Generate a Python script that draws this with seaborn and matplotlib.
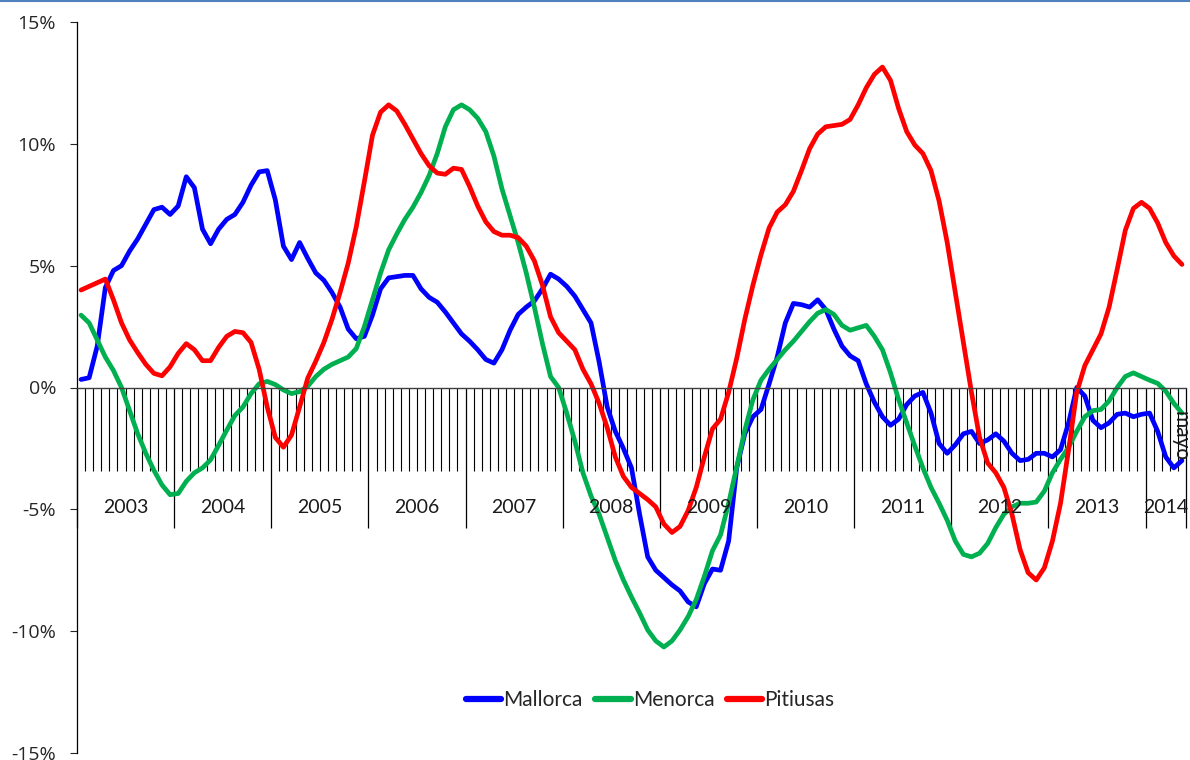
import matplotlib
matplotlib.use('Agg')
import seaborn as sns
import pandas as pd
import numpy as np
import matplotlib.pyplot as plt
from matplotlib.lines import Line2D
from matplotlib.ticker import FixedLocator, FuncFormatter

# monthly rate, Jan 2003 .. May 2014 (%)
mallorca = [0.33, 0.4, 1.7, 4.1, 4.8, 5.0, 5.6, 6.1, 6.7, 7.3, 7.4, 7.1,
            7.45, 8.65, 8.2, 6.5, 5.9, 6.5, 6.9, 7.1, 7.6, 8.3, 8.85, 8.9,
            7.7, 5.8, 5.25, 5.95, 5.3, 4.7, 4.4, 3.9, 3.3, 2.4, 2.0, 2.1,
            2.97, 4.05, 4.5, 4.55, 4.6, 4.6, 4.05, 3.7, 3.5, 3.1, 2.65, 2.2,
            1.9, 1.55, 1.15, 1.0, 1.55, 2.35, 3.0, 3.3, 3.55, 4.05, 4.65, 4.45,
            4.15, 3.75, 3.2, 2.65, 1.05, -0.8, -1.8, -2.5, -3.3, -5.2, -6.95, -7.5,
            -7.8, -8.1, -8.35, -8.8, -9.0, -8.05, -7.45, -7.5, -6.3, -3.3, -1.9, -1.2,
            -0.9, 0.15, 1.25, 2.65, 3.45, 3.4, 3.3, 3.6, 3.2, 2.4, 1.7, 1.3,
            1.1, 0.15, -0.6, -1.2, -1.55, -1.3, -0.7, -0.35, -0.2, -1.05, -2.3, -2.7,
            -2.35, -1.9, -1.8, -2.3, -2.15, -1.9, -2.2, -2.7, -3.0, -2.95, -2.7, -2.7,
            -2.85, -2.55, -1.45, 0.0, -0.35, -1.35, -1.65, -1.45, -1.1, -1.05, -1.2, -1.1,
            -1.05, -1.8, -2.85, -3.3, -3.0]
menorca = [2.97, 2.65, 1.95, 1.25, 0.7, 0.0, -0.95, -1.9, -2.7, -3.4, -4.0, -4.4,
           -4.35, -3.85, -3.5, -3.3, -2.97, -2.37, -1.75, -1.15, -0.8, -0.25, 0.15, 0.25,
           0.12, -0.1, -0.25, -0.17, 0.05, 0.45, 0.75, 0.95, 1.1, 1.25, 1.6, 2.5,
           3.6, 4.7, 5.65, 6.3, 6.9, 7.4, 8.0, 8.7, 9.6, 10.7, 11.4, 11.6,
           11.4, 11.05, 10.5, 9.5, 8.15, 7.05, 5.95, 4.7, 3.3, 1.8, 0.45, 0.0,
           -1.05, -2.2, -3.5, -4.45, -5.2, -6.15, -7.1, -7.9, -8.6, -9.25, -9.95, -10.4,
           -10.65, -10.4, -9.95, -9.4, -8.7, -7.75, -6.7, -6.05, -4.75, -3.25, -1.75, -0.5,
           0.3, 0.75, 1.15, 1.55, 1.9, 2.3, 2.7, 3.05, 3.2, 3.0, 2.55, 2.35,
           2.45, 2.55, 2.1, 1.55, 0.6, -0.5, -1.45, -2.4, -3.3, -4.1, -4.75, -5.45,
           -6.3, -6.85, -6.95, -6.8, -6.4, -5.75, -5.2, -4.9, -4.75, -4.75, -4.7, -4.25,
           -3.5, -2.95, -2.45, -1.8, -1.2, -0.95, -0.9, -0.55, 0.0, 0.45, 0.6, 0.45,
           0.3, 0.17, -0.15, -0.65, -1.05]
pitiusas = [4.0, 4.15, 4.3, 4.45, 3.6, 2.65, 1.95, 1.43, 0.95, 0.58, 0.48, 0.85,
            1.4, 1.8, 1.55, 1.1, 1.1, 1.65, 2.1, 2.3, 2.25, 1.85, 0.75, -0.8,
            -2.05, -2.45, -1.95, -0.8, 0.38, 1.08, 1.85, 2.8, 3.9, 5.1, 6.6, 8.45,
            10.35, 11.3, 11.6, 11.35, 10.8, 10.2, 9.6, 9.1, 8.8, 8.75, 9.0, 8.95,
            8.25, 7.45, 6.8, 6.4, 6.25, 6.25, 6.15, 5.8, 5.2, 4.2, 2.9, 2.25,
            1.9, 1.55, 0.75, 0.15, -0.65, -1.65, -2.85, -3.65, -4.1, -4.35, -4.6, -4.9,
            -5.6, -5.95, -5.7, -5.05, -4.1, -2.85, -1.7, -1.3, -0.2, 1.2, 2.8, 4.2,
            5.45, 6.55, 7.2, 7.5, 8.05, 8.9, 9.8, 10.4, 10.7, 10.75, 10.8, 11.0,
            11.6, 12.3, 12.85, 13.15, 12.6, 11.45, 10.5, 9.95, 9.6, 8.9, 7.65, 5.95,
            3.9, 1.85, -0.2, -2.05, -3.1, -3.5, -4.1, -5.2, -6.65, -7.6, -7.9, -7.4,
            -6.3, -4.75, -2.55, -0.2, 0.9, 1.55, 2.2, 3.3, 4.85, 6.45, 7.35, 7.6,
            7.35, 6.75, 5.95, 5.4, 5.05]

years = ['2003', '2004', '2005', '2006', '2007', '2008', '2009',
         '2010', '2011', '2012', '2013', '2014']
last_month_label = 'mayo'
series_names = ['Mallorca', 'Menorca', 'Pitiusas']
colors = {'Mallorca': '#0000FF', 'Menorca': '#00B050', 'Pitiusas': '#FF0000'}


def main():
    n = len(mallorca)
    mes = np.arange(n)
    df = pd.concat([
        pd.DataFrame({'mes': mes, 'valor': vals, 'isla': name})
        for name, vals in zip(series_names, [mallorca, menorca, pitiusas])
    ])

    sns.set_style("white")
    plt.rcParams['font.family'] = ['Lato', 'DejaVu Sans']
    plt.rcParams['axes.unicode_minus'] = False

    fig = plt.figure(figsize=(11.9, 7.6), dpi=100)
    ax = fig.add_axes([77 / 1190, 7 / 760, 1109 / 1190, 731 / 760])

    sns.lineplot(data=df, x='mes', y='valor', hue='isla', palette=colors,
                 hue_order=series_names, linewidth=3.4, ax=ax, legend=False)
    for ln in ax.get_lines():
        ln.set_solid_joinstyle('round')
        ln.set_solid_capstyle('round')

    ax.set_xlim(-0.5, n - 0.5)
    ax.set_ylim(-15, 15)
    ax.set_xlabel('')
    ax.set_ylabel('')

    # y axis
    ax.set_yticks([-15, -10, -5, 0, 5, 10, 15])
    ax.yaxis.set_major_formatter(FuncFormatter(lambda v, p: '%d%%' % v))
    ax.tick_params(axis='y', direction='out', length=5, width=0.8, pad=10,
                   labelsize=14, left=True)
    for lab in ax.get_yticklabels():
        lab.set_fontfamily(['Open Sans', 'DejaVu Sans'])
    ax.spines['left'].set_color('#000000')
    ax.spines['left'].set_linewidth(0.9)
    ax.spines['top'].set_visible(False)
    ax.spines['right'].set_visible(False)

    # category axis crossing at 0, month and year boundaries as ticks
    ax.spines['bottom'].set_position(('data', 0))
    ax.spines['bottom'].set_color('#404040')
    ax.spines['bottom'].set_linewidth(1.0)
    year_starts = list(range(0, n, 12)) + [n]
    ax.xaxis.set_major_locator(FixedLocator([s - 0.5 for s in year_starts]))
    ax.xaxis.set_minor_locator(FixedLocator(mes[1:] - 0.5))
    ax.tick_params(axis='x', which='major', direction='out', length=101,
                   width=0.9, color='#000000', labelbottom=False, bottom=True)
    ax.tick_params(axis='x', which='minor', direction='out', length=60,
                   width=0.8, color='#000000', bottom=True)

    for k, yr in enumerate(years):
        a = year_starts[k]
        b = year_starts[k + 1] - 1
        ax.text((a + b) / 2, -4.93, yr, ha='center', va='center',
                fontsize=14, color='#1a1a1a')

    ax.text(n - 1.2, -2.0, last_month_label, rotation=270, ha='center',
            va='center', fontsize=15, color='#1a1a1a')

    handles = [Line2D([0], [0], color=colors[s], lw=4.5, solid_capstyle='round')
               for s in series_names]
    ax.legend(handles, series_names, loc='center', bbox_to_anchor=(0.517, 0.0725),
              ncol=3, frameon=False, fontsize=15, handlelength=1.7,
              handletextpad=0.1, columnspacing=0.6)

    fig.add_artist(Line2D([0, 1], [0.9985, 0.9985], color='#4F81BD', lw=1.5,
                          transform=fig.transFigure))

    plt.savefig('out.png', dpi=100)


if __name__ == "__main__":
    main()
